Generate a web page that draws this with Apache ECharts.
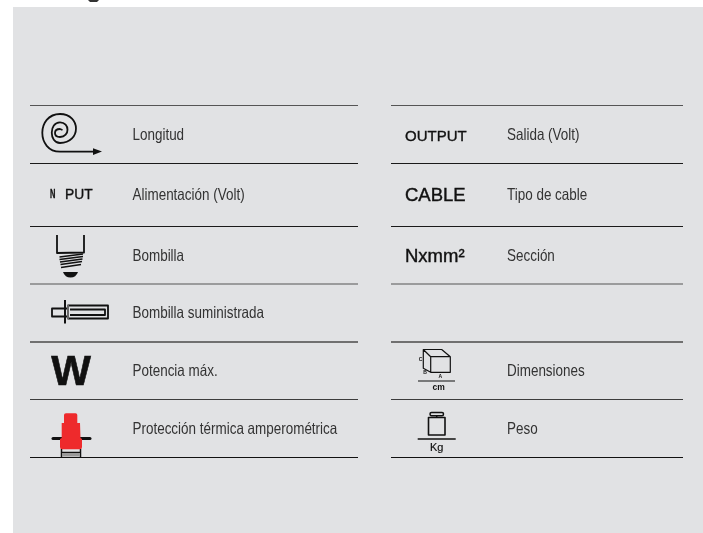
<!DOCTYPE html>
<html lang="en">
<head>
    <meta charset="UTF-8">
    <title>Leyenda de símbolos</title>
    <style>
        html, body { margin: 0; padding: 0; background: #fff; }
    </style>
    <script src="https://cdn.jsdelivr.net/npm/echarts@6/dist/echarts.min.js"></script>
</head>
<body>
<!-- chart container -->
<div id="main" style="width: 703px; height: 533px;"></div>
<script>
    // table content
    const leftLabels = ['Longitud', 'Alimentación (Volt)', 'Bombilla', 'Bombilla suministrada', 'Potencia máx.', 'Protección térmica amperométrica'];
    const rightLabels = ['Salida (Volt)', 'Tipo de cable', 'Sección', '', 'Dimensiones', 'Peso'];
    const outputCode = 'OUTPUT';
    const cableCode = 'CABLE';
    const sectionCode = 'Nxmm²';
    const powerCode = 'W';

    // layout
    const ruleY = [105.5, 163.5, 226.5, 284, 342, 399.5, 457.5];
    const ruleColor = ['#555', '#1a1a1a', '#1a1a1a', '#555', '#707070', '#3c3c3c', '#111'];
    const ruleWidth = [1, 1, 1, 1, 2, 1, 1];
    const labelY = [135.5, 195.5, 256.5, 313.5, 371.5, 429.5];
    const codeFont = '"Liberation Sans", sans-serif';
    const labelSize = 16.5;
    const labelScale = 0.815;
    const ink = '#111';

    function text(x, y, str, size, opt) {
        opt = opt || {};
        return {
            type: 'text',
            x: x, y: y,
            scaleX: opt.scaleX || 1,
            style: {
                text: str,
                font: (opt.weight || 'normal') + ' ' + size + 'px ' + codeFont,
                fill: opt.fill || ink,
                stroke: opt.stroke || null,
                lineWidth: opt.strokeWidth || 0,
                align: opt.align || 'left',
                verticalAlign: 'middle'
            }
        };
    }

    function path(d, opt) {
        opt = opt || {};
        return {
            type: 'path',
            shape: { pathData: d },
            style: {
                fill: opt.fill || 'none',
                stroke: opt.stroke === undefined ? ink : opt.stroke,
                lineWidth: opt.width === undefined ? 1.5 : opt.width,
                lineCap: opt.cap || 'butt',
                lineJoin: 'round'
            }
        };
    }

    function buildElements() {
        let elements = [
            { type: 'rect', shape: { x: 13, y: 7, width: 690, height: 526 }, style: { fill: '#e1e2e4' } },
            // scrap of the heading cut off by the crop
            path('M88 0 L99 0 L97 2 L90 2 Z', { fill: '#333', stroke: null })
        ];

        // rules
        ruleY.forEach(function (y, i) {
            [[30, 358], [391, 683]].forEach(function (span) {
                elements.push({
                    type: 'line',
                    shape: { x1: span[0], y1: y, x2: span[1], y2: y },
                    style: { stroke: ruleColor[i], lineWidth: ruleWidth[i] }
                });
            });
        });

        // labels
        leftLabels.forEach(function (s, i) {
            elements.push(text(132.5, labelY[i], s, labelSize, { fill: '#333', scaleX: labelScale }));
        });
        rightLabels.forEach(function (s, i) {
            if (s) elements.push(text(507, labelY[i], s, labelSize, { fill: '#333', scaleX: labelScale }));
        });

        // spiral
        elements.push(path('M95 151.7 L60 151.7 C36.4 151.7 36.4 114 60 114 C81.3 114 81.3 143 60 143 C49 143 49 122.3 60 122.3 C70 122.3 70 137 60 137 C53.3 137 53.3 129 60 129 L62.5 130', { width: 1.8 }));
        elements.push(path('M93 148.3 L102 151.6 L93 154.9 Z', { fill: ink, stroke: null }));

        // input
        elements.push(text(50, 195, 'N', 12.5, { weight: 'bold', scaleX: 0.6, stroke: ink, strokeWidth: 0.4 }));
        elements.push(text(65, 195, 'PUT', 13.8, { stroke: ink, strokeWidth: 0.35 }));

        // bulb
        elements.push(path('M57 235 L57 253 L84 252.5 L84 235', { width: 1.8 }));
        elements.push(path('M59.5 257 L83 254 M59.5 259.5 L83 256.5 M60 262 L82.5 259 M60.5 264.5 L82 261.5 M61 267.5 L81 264.5', { width: 1.6 }));
        elements.push(path('M63 272 L78 272 Q76 277.5 70.5 277.5 Q65 277.5 63 272 Z', { fill: ink, stroke: null }));

        // supplied bulb
        elements.push(path('M68 305.5 L108 305.5 L108 318.5 L68 318.5 Z M70 309.5 L105 309.5 L105 315 L70 315', { width: 1.8 }));
        elements.push(path('M68 308.5 L52 308.5 L52 316.5 L68 316.5', { width: 1.8 }));
        elements.push(path('M65 300 L65 323.5', { width: 2 }));
        elements.push(path('M68 305 L68 319', { width: 2, stroke: '#666' }));

        // power
        elements.push(text(51.3, 373, powerCode, 42, { weight: 'bold', stroke: ink, strokeWidth: 0.6 }));

        // thermal protection
        elements.push(path('M61.5 449 L61.5 457 M80.5 449 L80.5 457 M61.5 452.5 L80.5 452.5'));
        elements.push({ type: 'rect', shape: { x: 62, y: 453, width: 18, height: 3.5 }, style: { fill: '#999' } });
        elements.push(path('M53 438.5 L90 438.5', { width: 3, cap: 'round' }));
        elements.push(path('M64 415 Q64 413.3 66 413.3 L75.5 413.3 Q77.3 413.3 77.3 415 L77.3 423 L80 423 L80.5 438 L82 439 L82 447 Q82 449.3 80 449.3 L62 449.3 Q60 449.3 60 447 L60 439 L61.7 438 L61.7 423 L64 423 Z', { fill: '#ee2a2c', stroke: null }));

        // right column codes
        elements.push(text(405, 136.5, outputCode, 15, { stroke: ink, strokeWidth: 0.35 }));
        elements.push(text(405, 196, cableCode, 18.5, { stroke: ink, strokeWidth: 0.4 }));
        elements.push(text(405, 256.5, sectionCode, 18.5, { stroke: ink, strokeWidth: 0.4 }));

        // dimensions cube
        elements.push(path('M423.3 349.5 L441.7 349.5 L450.3 356.7 L450.3 372.3 L430.7 372.3 L423.3 368.3 Z M423.3 349.5 L430.7 356.7 L450.3 356.7 M430.7 356.7 L430.7 372.3', { width: 1.2 }));
        elements.push(path('M418 381 L455 381', { width: 1.2 }));
        elements.push(text(420.5, 360, 'C', 5, { weight: 'bold', align: 'center' }));
        elements.push(text(425, 373, 'B', 5, { weight: 'bold', align: 'center' }));
        elements.push(text(440.3, 377, 'A', 5, { weight: 'bold', align: 'center' }));
        elements.push(text(438.7, 388, 'cm', 8.5, { weight: 'bold', align: 'center' }));

        // weight
        elements.push(path('M428.5 417.5 L445 417.5 L445 435 L428.5 435 Z', { width: 1.6 }));
        elements.push(path('M431.5 412.5 L442 412.5 Q443.5 412.5 443.5 414 Q443.5 415.8 442 415.8 L431.5 415.8 Q430 415.8 430 414 Q430 412.5 431.5 412.5 Z M436.7 416 L436.7 417.5', { width: 1.5 }));
        elements.push(path('M417.7 439 L455.7 439', { width: 1.4 }));
        elements.push(text(436.7, 448, 'Kg', 11, { align: 'center', stroke: ink, strokeWidth: 0.2 }));
        return elements;
    }

    let myEcharts = echarts.init(document.getElementById('main'));
    myEcharts.setOption({
        animation: false,
        series: [{
            type: 'custom',
            coordinateSystem: 'none',
            silent: true,
            data: [0],
            renderItem: function () {
                return { type: 'group', children: buildElements() };
            }
        }]
    });
</script>
</body>
</html>
